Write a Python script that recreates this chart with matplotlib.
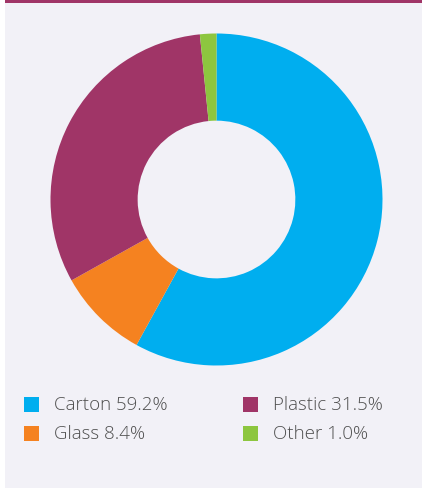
import matplotlib.pyplot as plt
from matplotlib.patches import Rectangle

# datos del grafico
labels = ['Carton', 'Glass', 'Plastic', 'Other']
# porcentajes que muestra la leyenda
pct_text = ['59.2%', '8.4%', '31.5%', '1.0%']
# tamaño de cada porcion tal como se ve en la dona
shares = [58.0, 8.9, 31.5, 1.6]
colors = ['#00aeef', '#f58220', '#a03567', '#8dc63f']

# orden de la leyenda (dos columnas)
legend_order = ['Carton', 'Plastic', 'Glass', 'Other']

W, H = 423, 489
fig = plt.figure(figsize=(W / 100, H / 100), dpi=100)
fig.patch.set_facecolor('white')

# fondo del panel y banda superior
bg = fig.add_axes([0, 0, 1, 1])
bg.set_xlim(0, W)
bg.set_ylim(H, 0)
bg.axis('off')
bg.add_patch(Rectangle((5, 0), W - 6, H, color='#f2f1f7', lw=0))
bg.add_patch(Rectangle((5, 0), W - 6, 3.5, color='#a03567', lw=0))

# dona
cx, cy, r = 216.5, 200.5, 166
ax = fig.add_axes([(cx - r) / W, (H - cy - r) / H, 2 * r / W, 2 * r / H])
ax.pie(shares, colors=colors, startangle=90, counterclock=False,
       radius=1, wedgeprops=dict(width=0.525, edgecolor='none'))
ax.set_xlim(-1, 1)
ax.set_ylim(-1, 1)
ax.set_aspect('equal')
ax.axis('off')

# leyenda
pos = [(24, 405), (243, 405), (24, 434), (243, 434)]
for name, (x, y) in zip(legend_order, pos):
    i = labels.index(name)
    bg.add_patch(Rectangle((x, y - 7.5), 15, 15, color=colors[i], lw=0))
    bg.text(x + 30, y, f'{name} {pct_text[i]}', va='center', ha='left',
            fontsize=13.5, color='#4f4f4f', family='Open Sans', weight='light')

fig.savefig('out.png', dpi=100)
